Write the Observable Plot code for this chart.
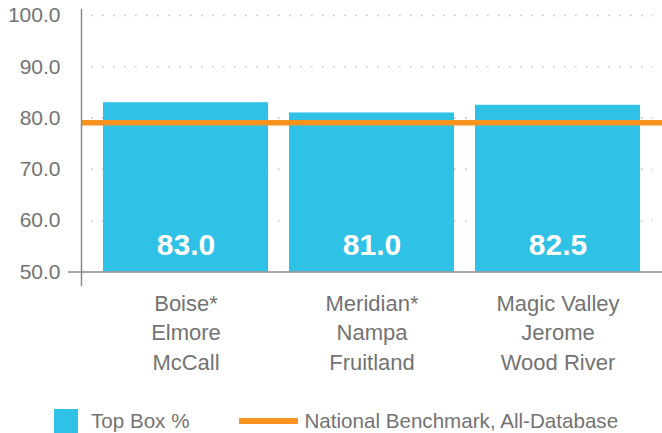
<!DOCTYPE html>
<html>
<head>
<meta charset="utf-8">
<script src="https://cdn.jsdelivr.net/npm/d3@7"></script>
<script src="https://cdn.jsdelivr.net/npm/@observablehq/plot@0.6"></script>
<style>
  html, body { margin: 0; padding: 0; background: #fff; }
  body { width: 662px; height: 433px; overflow: hidden; font-family: "Liberation Sans", Arial, Helvetica, sans-serif; }
  #legend { display: flex; align-items: center; height: 24px; padding-top: 14px; padding-left: 54px; color: #737373; font-size: 20.6px; }
  .sw { width: 24px; height: 24px; background: #2fc1e6; margin-right: 13px; }
  .ln { width: 59px; height: 6px; background: #f7931e; margin-left: 50px; margin-right: 6px; }
</style>
</head>
<body>
<div id="chart"></div>
<div id="legend">
  <div class="sw"></div><span id="l1"></span>
  <div class="ln"></div><span id="l2"></span>
</div>
<script>
const categories = ["Boise*\nElmore\nMcCall", "Meridian*\nNampa\nFruitland", "Magic Valley\nJerome\nWood River"];
const topBox = [83.0, 81.0, 82.5];
const benchmark = 79.1;
const yTicks = [50, 60, 70, 80, 90, 100];
const gridTicks = [60, 70, 80, 90, 100];
const seriesNames = ["Top Box %", "National Benchmark, All-Database"];
const yDomain = [50, 100];

const data = categories.map((c, i) => ({name: c, value: topBox[i]}));

document.getElementById("l1").textContent = seriesNames[0];
document.getElementById("l2").textContent = seriesNames[1];

const gray = "#737373";
const chart = Plot.plot({
  width: 662,
  height: 395,
  marginLeft: 81,
  marginRight: 0,
  marginTop: 15,
  marginBottom: 123.5,
  style: {fontFamily: '"Liberation Sans", Arial, Helvetica, sans-serif', background: "#fff"},
  x: {domain: categories, paddingInner: 0.112, paddingOuter: 0.11},
  y: {domain: yDomain},
  marks: [
    Plot.ruleY(gridTicks, {stroke: "#c8c8c8", strokeWidth: 1.6, strokeDasharray: "1.6,9.4", insetLeft: 10, insetRight: 9}),
    Plot.barY(data, {x: "name", y1: yDomain[0], y2: "value", fill: "#2fc1e6"}),
    Plot.text(data, {x: "name", y: yDomain[0], text: d => d.value.toFixed(1), fill: "#fff", fontSize: 30, fontWeight: "bold", dy: -26.5, textAnchor: "middle"}),
    Plot.ruleY([benchmark], {stroke: "#f7931e", strokeWidth: 5.5}),
    Plot.ruleY([yDomain[0]], {stroke: "#8a8a8a", strokeWidth: 1.5, insetLeft: -13}),
    Plot.frame({anchor: "left", stroke: "#8a8a8a", strokeWidth: 1.5, insetTop: -6, insetBottom: -13.5}),
    Plot.axisY(yTicks, {tickSize: 0, tickPadding: 21, tickFormat: d => d.toFixed(1), fontSize: 21, fill: gray, label: null}),
    Plot.axisX({tickSize: 0, tickPadding: 18, fontSize: 22, lineHeight: 1.34, fill: gray, label: null})
  ]
});
document.getElementById("chart").appendChild(chart);
</script>
</body>
</html>
